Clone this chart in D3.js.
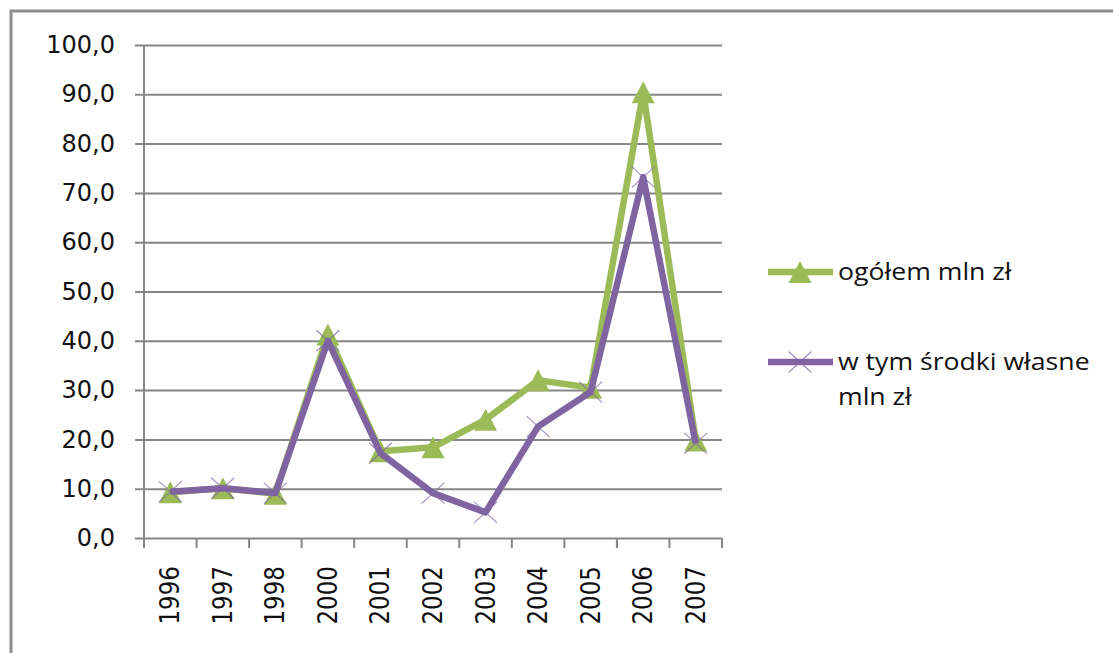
<!DOCTYPE html>
<html>
<head>
<meta charset="utf-8">
<script src="https://cdn.jsdelivr.net/npm/d3@7"></script>
<style>
  html, body { margin: 0; padding: 0; background: #fff; }
  svg { display: block; }
</style>
</head>
<body>
<svg id="chart" width="1113" height="653"></svg>
<script>
// Years (category axis)
const years = ["1996", "1997", "1998", "2000", "2001", "2002", "2003", "2004", "2005", "2006", "2007"];
// Investment totals, mln zł
const totalValues = [9.3, 10.1, 9.0, 41.3, 17.6, 18.4, 24.0, 32.0, 30.5, 90.4, 19.8];
// Of which own funds, mln zł
const ownValues = [9.4, 10.1, 9.1, 40.0, 17.2, 9.1, 5.2, 22.6, 29.6, 73.2, 19.2];
// Value axis ticks
const yTicks = [0, 10, 20, 30, 40, 50, 60, 70, 80, 90, 100];
// Legend labels
const seriesNames = ["ogółem mln zł", "w tym środki własne mln zł"];

const GREEN = "#9BBB59";
const PURPLE = "#8064A2";
const GRID = "#868686";

const svg = d3.select("#chart");

// Outer chart frame (top and left edges visible)
svg.append("path")
  .attr("d", "M11,1200 V11 H1200")
  .attr("fill", "none")
  .attr("stroke", "#8c8c8c")
  .attr("stroke-width", 3);

const plot = { left: 144, right: 722, top: 45, bottom: 538 };

const x = d3.scaleBand().domain(years).range([plot.left, plot.right]).paddingInner(0).paddingOuter(0);
const y = d3.scaleLinear().domain([0, 100]).range([plot.bottom, plot.top]);
const cx = d => x(d) + x.bandwidth() / 2;

// Horizontal gridlines with value labels
const yAxis = d3.axisLeft(y)
  .tickValues(yTicks)
  .tickSize(-(plot.right - plot.left) - 9)
  .tickPadding(20)
  .tickFormat(d => d3.format(".1f")(d).replace(".", ","));

const gy = svg.append("g")
  .attr("transform", `translate(${plot.right},0)`)
  .call(g => g.call(yAxis));
gy.select(".domain").remove();
gy.selectAll(".tick line")
  .attr("x1", 0)
  .attr("x2", -(plot.right - plot.left) - 9)
  .attr("stroke", GRID)
  .attr("stroke-width", 2);
gy.selectAll(".tick text")
  .attr("x", -(plot.right - plot.left) - 29)
  .attr("fill", "#111")
  .style("font-family", "'DejaVu Sans', Verdana, sans-serif")
  .style("font-size", "24px");

// Vertical value axis line
svg.append("line")
  .attr("x1", plot.left).attr("x2", plot.left)
  .attr("y1", plot.top).attr("y2", plot.bottom + 10)
  .attr("stroke", GRID).attr("stroke-width", 2);

// Category axis: tick marks between categories
const boundaries = years.map(d => x(d)).concat([plot.right]);
svg.append("g").selectAll("line")
  .data(boundaries)
  .join("line")
  .attr("x1", d => d).attr("x2", d => d)
  .attr("y1", plot.bottom).attr("y2", plot.bottom + 10)
  .attr("stroke", GRID).attr("stroke-width", 2);

// Rotated year labels
svg.append("g").selectAll("text")
  .data(years)
  .join("text")
  .attr("transform", d => `translate(${cx(d) + 9},${plot.bottom + 28}) rotate(-90) scale(1,1.12)`)
  .attr("text-anchor", "end")
  .attr("fill", "#111")
  .style("font-family", "'DejaVu Sans', Verdana, sans-serif")
  .style("font-size", "23px")
  .text(d => d);

const line = d3.line().x(d => cx(d.year)).y(d => y(d.value));

const triangle = "M0,-11 L11.5,11 L-11.5,11 Z";
const cross = "M-11.5,-10.5 L11.5,10.5 M-11.5,10.5 L11.5,-10.5";

// Series 1: total (green, triangles)
const totalData = years.map((yr, i) => ({ year: yr, value: totalValues[i] }));
svg.append("path")
  .datum(totalData)
  .attr("d", line)
  .attr("fill", "none")
  .attr("stroke", GREEN)
  .attr("stroke-width", 6.5)
  .attr("stroke-linejoin", "round");
svg.append("g").selectAll("path")
  .data(totalData)
  .join("path")
  .attr("d", triangle)
  .attr("transform", d => `translate(${cx(d.year)},${y(d.value)})`)
  .attr("fill", GREEN);

// Series 2: own funds (purple, crosses)
const ownData = years.map((yr, i) => ({ year: yr, value: ownValues[i] }));
svg.append("path")
  .datum(ownData)
  .attr("d", line)
  .attr("fill", "none")
  .attr("stroke", PURPLE)
  .attr("stroke-width", 6.5)
  .attr("stroke-linejoin", "round");
svg.append("g").selectAll("path")
  .data(ownData)
  .join("path")
  .attr("d", cross)
  .attr("transform", d => `translate(${cx(d.year)},${y(d.value)})`)
  .attr("fill", "none")
  .attr("stroke", PURPLE)
  .attr("stroke-opacity", 0.7)
  .attr("stroke-width", 1.2);

// Legend
const legendFont = "'Open Sans', Lato, sans-serif";
const legend = svg.append("g");
const items = [
  { name: seriesNames[0], color: GREEN, marker: triangle, y: 272, lines: ["ogółem mln zł"] },
  { name: seriesNames[1], color: PURPLE, marker: cross, y: 362, lines: ["w tym środki własne", "mln zł"] }
];
items.forEach((it, i) => {
  legend.append("line")
    .attr("x1", 768).attr("x2", 833)
    .attr("y1", it.y).attr("y2", it.y)
    .attr("stroke", it.color).attr("stroke-width", 6.5);
  const m = legend.append("path")
    .attr("d", it.marker)
    .attr("transform", `translate(800,${it.y})`);
  if (i === 0) m.attr("fill", it.color);
  else m.attr("fill", "none").attr("stroke", it.color).attr("stroke-opacity", 0.7).attr("stroke-width", 1.2);
  const t = legend.append("text")
    .attr("transform", `translate(838,${it.y + 8}) scale(1.11,1)`)
    .attr("fill", "#111")
    .style("font-family", legendFont)
    .style("font-size", "24px");
  it.lines.forEach((ln, k) => {
    t.append("tspan").attr("x", 0).attr("dy", k === 0 ? 0 : 35).text(ln);
  });
});
</script>
</body>
</html>
